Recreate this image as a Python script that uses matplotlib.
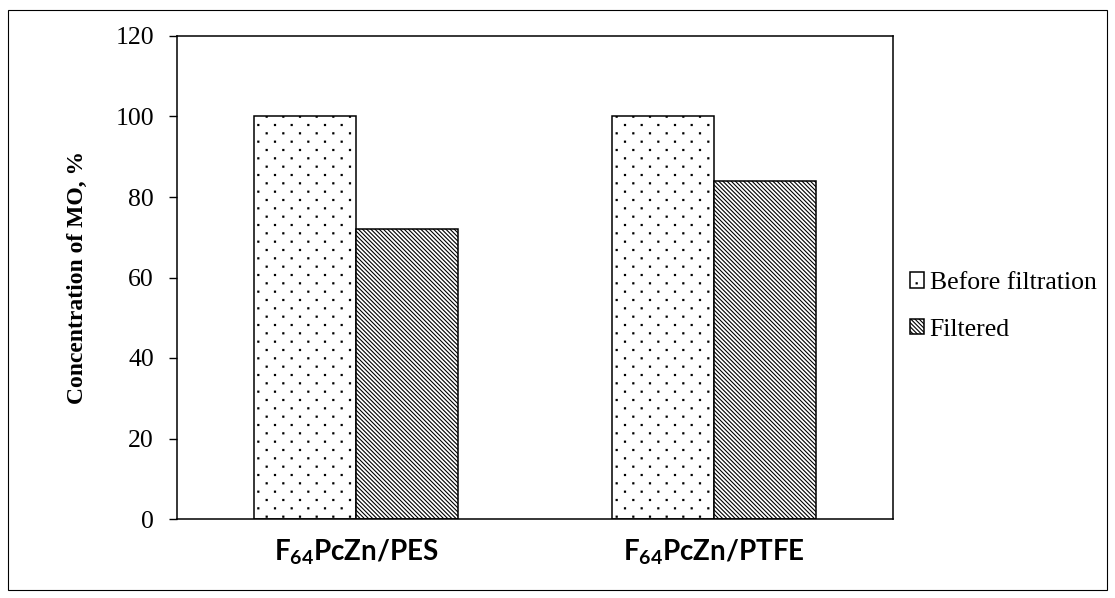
import matplotlib
matplotlib.use("Agg")
import matplotlib.pyplot as plt
import matplotlib.hatch as mhatch
from matplotlib.patches import Rectangle
from matplotlib.path import Path
import numpy as np

categories = [r"F$_{\mathbf{64}}$PcZn/PES", r"F$_{\mathbf{64}}$PcZn/PTFE"]
series_names = ["Before filtration", "Filtered"]
before_values = [100, 100]
filtered_values = [72, 84]
y_ticks = [0, 20, 40, 60, 80, 100, 120]


class StaggeredDots(mhatch.HatchPatternBase):
    """Small square dots on a staggered lattice: rows twice as close as columns."""

    def __init__(self, hatch, density):
        n = hatch.count(".")
        self.cols = 6 * n
        self.rows = 12 * n
        side = 0.011
        sq = np.array([[-1, -1], [1, -1], [1, 1], [-1, 1], [-1, -1]], float) * side / 2
        self.shape_vertices = sq
        self.shape_codes = np.array([Path.MOVETO, Path.LINETO, Path.LINETO,
                                     Path.LINETO, Path.CLOSEPOLY], dtype=Path.code_type)
        if n == 0:
            self.num_vertices = 0
            self.centres = []
        else:
            centres = []
            for r in range(self.rows + 1):
                y = r / self.rows
                if r % 2 == 0:
                    xs = np.linspace(0, 1, self.cols + 1)
                else:
                    xs = np.linspace(0.5 / self.cols, 1 - 0.5 / self.cols, self.cols)
                centres.extend((xx, y) for xx in xs)
            self.centres = centres
            self.num_vertices = len(centres) * len(sq)

    def set_vertices_and_codes(self, vertices, codes):
        k = len(self.shape_vertices)
        for i, (cx, cy) in enumerate(self.centres):
            vertices[i * k:(i + 1) * k] = self.shape_vertices + (cx, cy)
            codes[i * k:(i + 1) * k] = self.shape_codes


mhatch._hatch_types = [StaggeredDots if t is mhatch.SmallFilledCircles else t
                       for t in mhatch._hatch_types]

plt.rcParams["hatch.linewidth"] = 0.8
plt.rcParams["mathtext.fontset"] = "custom"
plt.rcParams["mathtext.bf"] = "Lato:bold"
plt.rcParams["mathtext.rm"] = "Lato:bold"

fig = plt.figure(figsize=(11.15, 5.98), dpi=100)
ax = fig.add_axes([177 / 1115, 1 - 519 / 598, (893 - 177) / 1115, (519 - 36) / 598])

x = np.arange(len(categories))
w = 0.285
ax.bar(x - w / 2, before_values, w, facecolor="white", edgecolor="black",
       hatch=".", linewidth=1.1, label=series_names[0])
ax.bar(x + w / 2, filtered_values, w, facecolor="white", edgecolor="black",
       hatch="\\" * 8, linewidth=1.1, label=series_names[1])

ax.set_xlim(-0.5, 1.5)
ax.set_ylim(0, 120)
ax.set_yticks(y_ticks)
ax.set_yticklabels([str(v) for v in y_ticks], family="Liberation Serif", fontsize=18.5)
ax.tick_params(axis="y", direction="out", length=6, width=1, pad=10.5)
ax.tick_params(axis="x", length=0, pad=13)
ax.set_xticks(x)
ax.set_xticklabels(categories, family="Lato", fontweight="bold", fontsize=20)

for side in ["top", "right", "left", "bottom"]:
    ax.spines[side].set_linewidth(1.1)

ax.set_ylabel("Concentration of MO, %", family="Liberation Serif",
              fontweight="bold", fontsize=17, labelpad=20)

leg = ax.legend(loc="center left", bbox_to_anchor=(1.0, 0.44), frameon=False,
                prop={"family": "Liberation Serif", "size": 18.5},
                handlelength=0.55, handleheight=0.55, handletextpad=0.23,
                labelspacing=0.95, borderaxespad=0.25, borderpad=0.4)

# outer frame around the whole chart
fig.patches.append(Rectangle((8 / 1115, 1 - 590 / 598), 1099 / 1115, 580 / 598,
                             transform=fig.transFigure, fill=False,
                             edgecolor="black", linewidth=0.8))

fig.savefig("out.png", dpi=100)
